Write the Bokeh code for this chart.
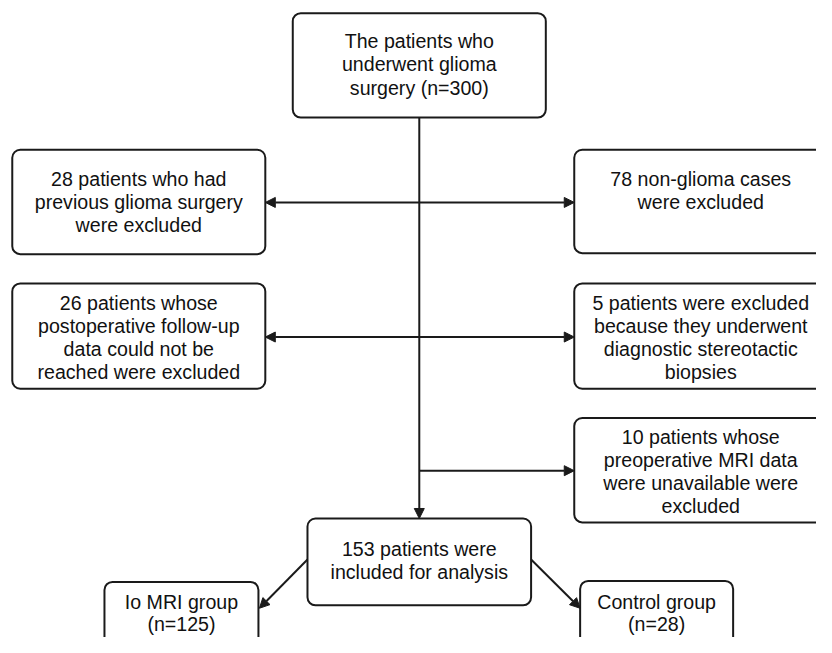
from bokeh.plotting import figure
from bokeh.models import Range1d, Arrow, NormalHead, ColumnDataSource
from bokeh.core.properties import value
from bokeh.embed import file_html
from bokeh.resources import INLINE

# ---- content ----
box_names = ["start", "prev", "nonglioma", "followup", "biopsy", "mri", "included", "iomri", "control"]
box_texts = [
    "The patients who\nunderwent glioma\nsurgery (n=300)",
    "28 patients who had\nprevious glioma surgery\nwere excluded",
    "78 non-glioma cases\nwere excluded",
    "26 patients whose\npostoperative follow-up\ndata could not be\nreached were excluded",
    "5 patients were excluded\nbecause they underwent\ndiagnostic stereotactic\nbiopsies",
    "10 patients whose\npreoperative MRI data\nwere unavailable were\nexcluded",
    "153 patients were\nincluded for analysis",
    "Io MRI group\n(n=125)",
    "Control group\n(n=28)",
]
# excluded counts and totals (for reference)
total_n = 300
excluded_n = [28, 78, 26, 5, 10]
included_n = 153
group_n = [125, 28]

# ---- layout (reference frame coordinates, 832 x 653) ----
box_left   = [298, 12, 585, 12, 585, 585, 313, 106, 591]
box_right  = [556, 270, 843, 270, 843, 843, 541, 263, 747]
box_top    = [13, 153, 153, 290, 290, 428, 531, 596, 595]
box_bottom = [120, 260, 259, 398, 398, 535, 620, 690, 690]
text_first_y = [42, 183, 183, 310, 310, 447, 562, 617, 617]
line_gap = [23.6, 23.6, 23.6, 23.6, 23.6, 23.6, 23.6, 22.0, 22.0]
FRAME_W, FRAME_H = 832, 653

W, H = 816, 637
p = figure(width=W, height=H, output_backend="svg", toolbar_location=None,
           x_range=Range1d(0, FRAME_W), y_range=Range1d(FRAME_H, 0),
           min_border=0, outline_line_color=None)
p.axis.visible = False
p.grid.visible = False
p.background_fill_color = "white"

ink = "#1a1a1a"

spine_x = 427
def arrow(x0, y0, x1, y1):
    p.add_layout(Arrow(end=NormalHead(size=10, fill_color=ink, line_color=ink, line_width=1),
                       x_start=x0, y_start=y0, x_end=x1, y_end=y1,
                       line_color=ink, line_width=2))

arrow(spine_x, 120, spine_x, 531)
for y, left, right in [(207, True, True), (345, True, True), (482, False, True)]:
    if left:
        arrow(spine_x, y, 270, y)
    if right:
        arrow(spine_x, y, 585, y)
arrow(313, 573, 264, 623)
arrow(541, 573, 591, 623)

# boxes
p.quad(left=box_left, right=box_right, top=box_top, bottom=box_bottom,
       fill_color="white", line_color=ink, line_width=2, border_radius=8)

# texts
tx, ty, tt = [], [], []
for l, r, y0, g, txt in zip(box_left, box_right, text_first_y, line_gap, box_texts):
    for i, line in enumerate(txt.split("\n")):
        tx.append((l + r) / 2)
        ty.append(y0 + i * g)
        tt.append(line)
src = ColumnDataSource(dict(x=tx, y=ty, t=tt))
p.text(x="x", y="y", text="t", source=src, text_align="center", text_baseline="middle",
       text_font=value("Liberation Sans"), text_font_size="19.6px", text_color="#111111")

open("out.html", "w").write(file_html(p, INLINE))
